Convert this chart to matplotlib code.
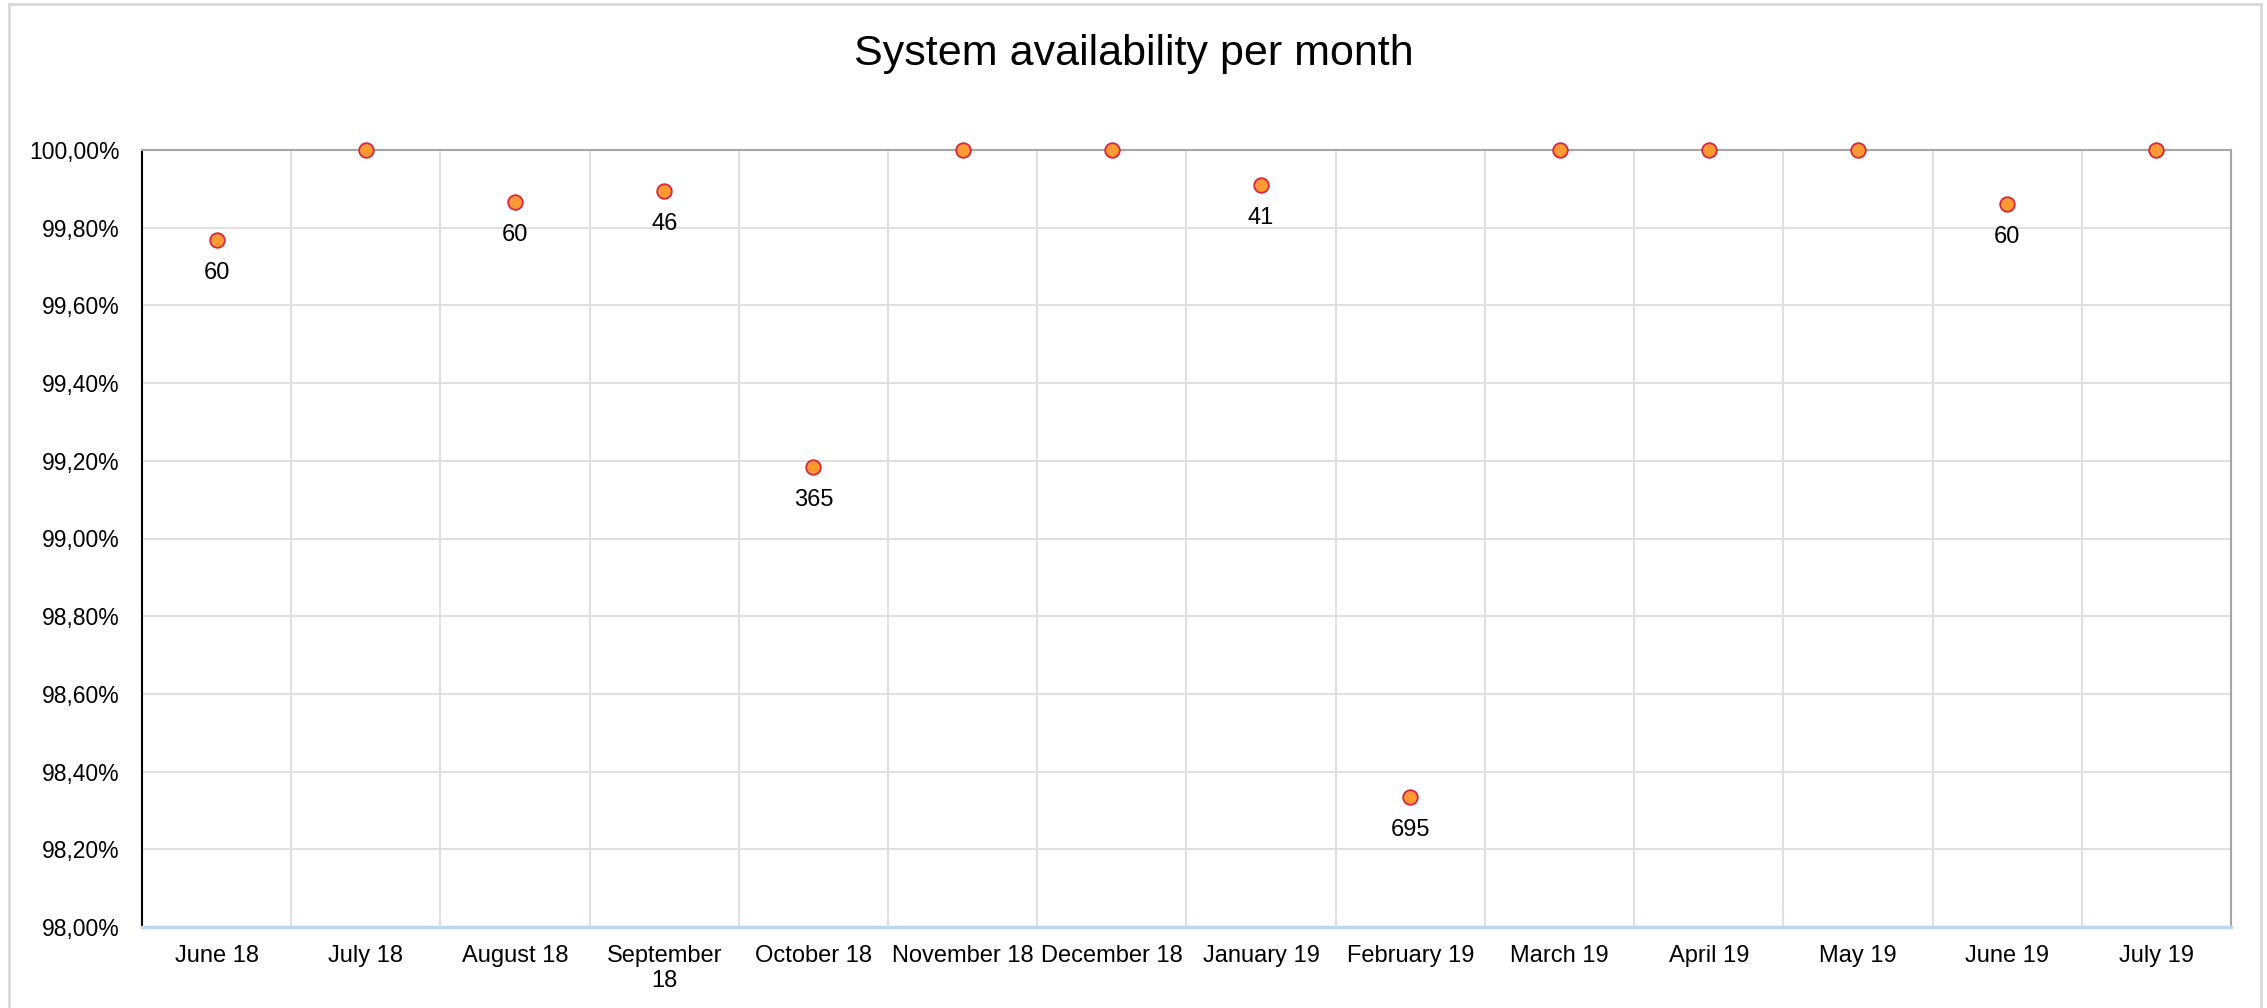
import matplotlib
matplotlib.use("Agg")
import matplotlib.pyplot as plt
from matplotlib.patches import Rectangle
from matplotlib.ticker import FuncFormatter, MultipleLocator

plt.rcParams['font.family'] = ['Liberation Sans', 'DejaVu Sans']

months = ["June 18", "July 18", "August 18", "September\n18", "October 18",
          "November 18", "December 18", "January 19", "February 19",
          "March 19", "April 19", "May 19", "June 19", "July 19"]
availability = [99.768, 100.0, 99.866, 99.895, 99.184, 100.0, 100.0,
                99.910, 98.335, 100.0, 100.0, 100.0, 99.862, 100.0]
downtime_labels = ["60", "", "60", "46", "365", "", "", "41", "695",
                   "", "", "", "60", ""]

W, H = 2267, 1008
fig = plt.figure(figsize=(W / 100, H / 100), dpi=100)
fig.patch.set_facecolor("white")

# outer chart border
fig.patches.append(Rectangle((9 / W, -0.05), (2261 - 9) / W, 1 - 4 / H + 0.05,
                             transform=fig.transFigure, fill=False,
                             edgecolor="#D9D9D9", linewidth=2))

left, right, top, bottom = 142, 2231, 150, 927
ax = fig.add_axes([left / W, 1 - bottom / H, (right - left) / W, (bottom - top) / H])

x = list(range(len(months)))
ax.set_xlim(-0.5, len(months) - 0.5)
ax.set_ylim(98.0, 100.0)

ax.yaxis.set_major_locator(MultipleLocator(0.2))
ax.yaxis.set_major_formatter(FuncFormatter(lambda v, p: f"{v:.2f}".replace(".", ",") + "%"))
ax.set_xticks(x)
ax.set_xticklabels(months, fontsize=17, linespacing=1.15)
ax.set_xticks([i + 0.5 for i in x[:-1]], minor=True)

ax.grid(True, which="major", axis="y", color="#E0E0E0", linewidth=1.5)
ax.grid(True, which="minor", axis="x", color="#E0E0E0", linewidth=1.5)
ax.set_axisbelow(True)
ax.tick_params(axis="both", which="both", length=0)
ax.tick_params(axis="y", labelsize=16.5, pad=16)
ax.tick_params(axis="x", pad=13)

ax.spines["left"].set_color("black")
ax.spines["left"].set_linewidth(1.5)
ax.spines["top"].set_color("#A6A6A6")
ax.spines["top"].set_linewidth(1.5)
ax.spines["right"].set_color("#A6A6A6")
ax.spines["right"].set_linewidth(1.5)
ax.spines["bottom"].set_color("#BDD7EE")
ax.spines["bottom"].set_linewidth(2.5)

ax.plot(x, availability, linestyle="none", marker="o", markersize=10.5,
        markerfacecolor="#FF9933", markeredgecolor="#D7263D",
        markeredgewidth=1.3, clip_on=False, zorder=5)

for xi, yi, lab in zip(x, availability, downtime_labels):
    if lab:
        ax.annotate(lab, (xi, yi), xytext=(0, -24), textcoords="offset points",
                    ha="center", va="center", fontsize=17)

fig.text(1134 / W, 1 - 65 / H, "System availability per month",
         ha="center", va="baseline", fontsize=31)

fig.savefig("out.png", dpi=100)
